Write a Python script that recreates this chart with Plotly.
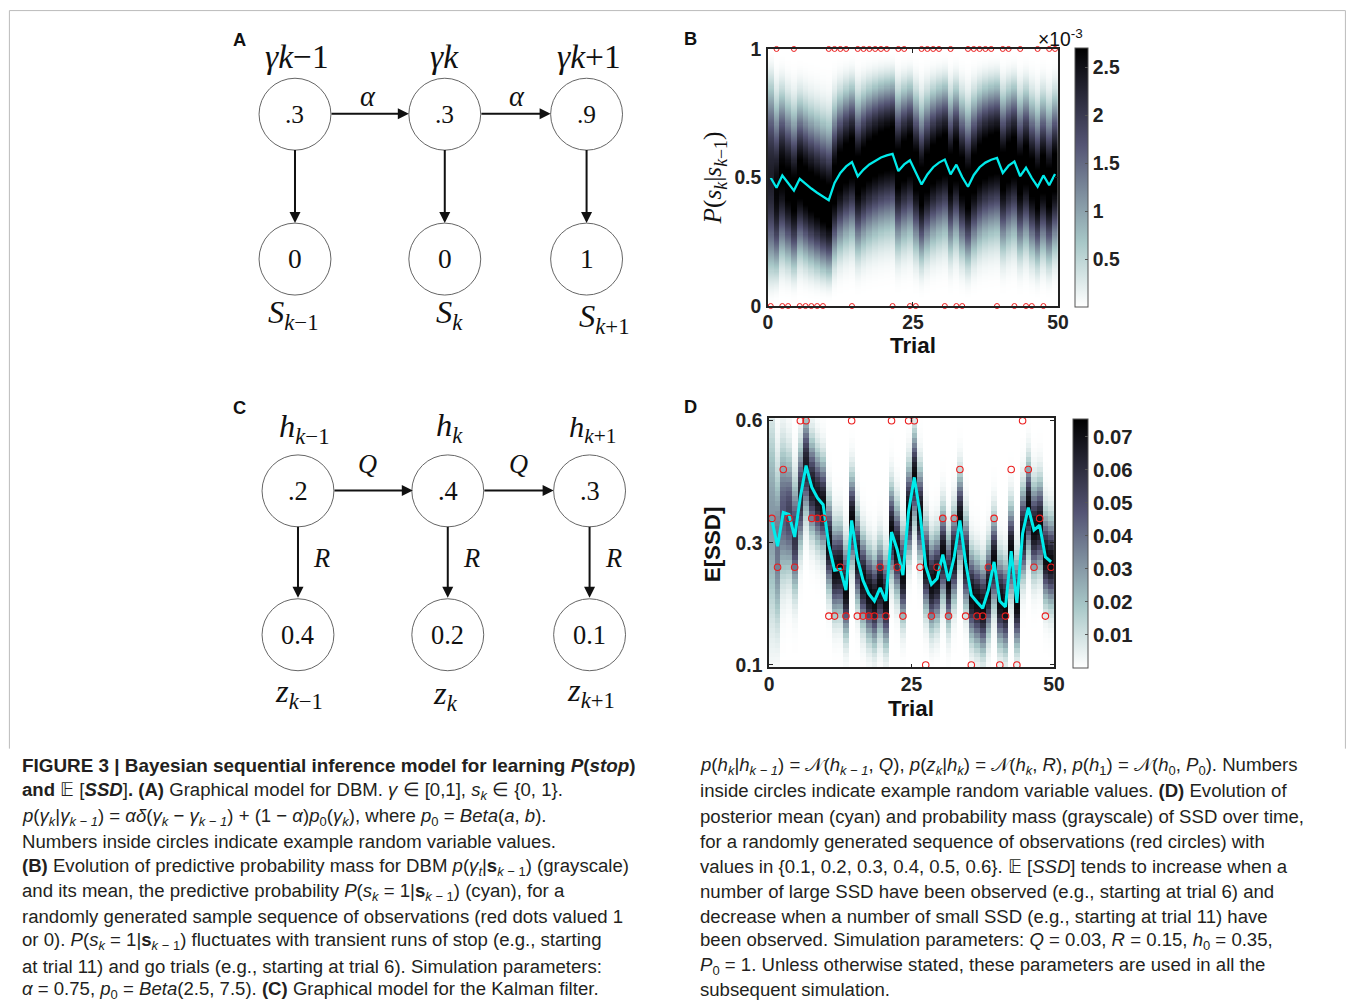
import math
import numpy as np
import plotly.graph_objects as go

W, H = 1357, 1007
# mapping from target picture coordinates to page coordinates (measured from
# the rendered output: picture = offset + scale * page)
SCX, OFX = 0.9896, 3.6
SCY, OFY = 0.980, 8.7

# ---------------- data ----------------
trials = list(range(1, 51))

# Panel B (DBM): observations (1 = stop, 0 = go) and predictive probability (cyan)
stop_obs = [0, 1, 0, 0, 1, 0, 0, 0, 0, 0,
            1, 1, 1, 1, 0, 1, 1, 1, 1, 1,
            1, 0, 1, 1, 0, 0, 1, 1, 1, 1,
            0, 1, 0, 0, 1, 1, 1, 1, 1, 0,
            1, 1, 0, 1, 0, 0, 1, 0, 1, 1]
pred_prob = [0.499, 0.460, 0.508, 0.478, 0.449, 0.495, 0.475, 0.457, 0.441, 0.426,
             0.412, 0.479, 0.518, 0.543, 0.560, 0.505, 0.531, 0.551, 0.566, 0.578,
             0.586, 0.592, 0.525, 0.551, 0.567, 0.518, 0.473, 0.512, 0.540, 0.558,
             0.570, 0.512, 0.550, 0.502, 0.464, 0.510, 0.540, 0.558, 0.569, 0.576,
             0.518, 0.546, 0.562, 0.505, 0.538, 0.498, 0.464, 0.508, 0.470, 0.514]
# spread (concentration) of the predictive mass in each column, read by eye
pred_conc = [6.0, 7.5, 8.0, 8.5, 8.5, 9.0, 9.0, 9.0, 9.0, 9.0,
             9.0, 9.0, 9.0, 9.0, 9.0, 9.0, 9.0, 9.0, 9.0, 9.0,
             9.0, 9.0, 9.0, 9.0, 9.0, 9.0, 9.0, 9.0, 9.0, 9.0,
             9.0, 9.0, 9.0, 9.0, 9.0, 9.0, 9.0, 9.0, 9.0, 9.0,
             9.0, 9.0, 9.0, 9.0, 9.0, 9.0, 9.0, 9.0, 9.0, 9.0]
b_cbar_max = 2.7e-3
b_cbar_ticks = [0.5e-3, 1.0e-3, 1.5e-3, 2.0e-3, 2.5e-3]
b_cbar_text = ["0.5", "1", "1.5", "2", "2.5"]

# Panel D (Kalman): observed SSD, posterior mean (cyan), posterior sd
ssd_obs = [0.4, 0.3, 0.5, 0.4, 0.3, 0.6, 0.6, 0.4, 0.4, 0.4,
           0.2, 0.2, 0.3, 0.2, 0.6, 0.2, 0.2, 0.2, 0.2, 0.3,
           0.2, 0.6, 0.3, 0.2, 0.6, 0.6, 0.3, 0.1, 0.2, 0.3,
           0.4, 0.2, 0.4, 0.5, 0.2, 0.1, 0.2, 0.2, 0.3, 0.4,
           0.1, 0.2, 0.5, 0.1, 0.6, 0.5, 0.3, 0.4, 0.2, 0.3]
ssd_mean = [0.396, 0.343, 0.412, 0.408, 0.362, 0.444, 0.508, 0.464, 0.442, 0.428,
            0.345, 0.294, 0.296, 0.253, 0.396, 0.318, 0.273, 0.246, 0.231, 0.258,
            0.231, 0.372, 0.336, 0.284, 0.415, 0.484, 0.410, 0.302, 0.265, 0.277,
            0.326, 0.272, 0.321, 0.396, 0.310, 0.243, 0.229, 0.216, 0.253, 0.311,
            0.231, 0.219, 0.333, 0.227, 0.369, 0.422, 0.376, 0.386, 0.321, 0.311]
ssd_sd = [0.130, 0.100, 0.085, 0.075, 0.068, 0.063, 0.060, 0.058, 0.057, 0.056,
          0.055, 0.055, 0.055, 0.055, 0.055, 0.055, 0.055, 0.055, 0.055, 0.055,
          0.055, 0.055, 0.055, 0.055, 0.055, 0.055, 0.055, 0.055, 0.055, 0.055,
          0.055, 0.055, 0.055, 0.055, 0.055, 0.055, 0.055, 0.055, 0.055, 0.055,
          0.055, 0.055, 0.055, 0.055, 0.055, 0.055, 0.055, 0.055, 0.055, 0.055]
ssd_levels = [0.10, 0.11, 0.12, 0.13, 0.14, 0.15, 0.16, 0.17, 0.18, 0.19,
              0.20, 0.21, 0.22, 0.23, 0.24, 0.25, 0.26, 0.27, 0.28, 0.29,
              0.30, 0.31, 0.32, 0.33, 0.34, 0.35, 0.36, 0.37, 0.38, 0.39,
              0.40, 0.41, 0.42, 0.43, 0.44, 0.45, 0.46, 0.47, 0.48, 0.49,
              0.50, 0.51, 0.52, 0.53, 0.54, 0.55, 0.56, 0.57, 0.58, 0.59, 0.60]
d_cbar_max = 0.0755
d_cbar_ticks = [0.01, 0.02, 0.03, 0.04, 0.05, 0.06, 0.07]
d_cbar_text = ["0.01", "0.02", "0.03", "0.04", "0.05", "0.06", "0.07"]

# Graphical-model node values
dbm_hidden = [".3", ".3", ".9"]
dbm_observed = ["0", "0", "1"]
kf_hidden = [".2", ".4", ".3"]
kf_observed = ["0.4", "0.2", "0.1"]

# ---------------- derived grids ----------------
gamma_grid = np.linspace(0.0, 1.0, 251)
b_mass_scale = 1.25e-3


def beta_pdf(y, a, b):
    y = np.clip(y, 1e-9, 1 - 1e-9)
    lnB = math.lgamma(a) + math.lgamma(b) - math.lgamma(a + b)
    return np.exp((a - 1) * np.log(y) + (b - 1) * np.log(1 - y) - lnB)


zB = np.zeros((len(gamma_grid), len(trials)))
for i, (m, k) in enumerate(zip(pred_prob, pred_conc)):
    zB[:, i] = beta_pdf(gamma_grid, m * k, (1 - m) * k) * b_mass_scale

lv = np.array(ssd_levels)
zD = np.zeros((len(lv), len(trials)))
for i, (m, s) in enumerate(zip(ssd_mean, ssd_sd)):
    zD[:, i] = 0.01 * np.exp(-0.5 * ((lv - m) / s) ** 2) / (s * math.sqrt(2 * math.pi))

# MATLAB "bone" colormap, reversed
bone_r = [[0.0, "rgb(255,255,255)"], [0.25, "rgb(167,199,199)"],
          [0.625, "rgb(84,84,116)"], [1.0, "rgb(0,0,0)"]]

CYAN = "rgb(0,235,235)"
RED = "rgb(235,30,30)"
SANS = "Liberation Sans"
SERIF = "Liberation Serif"
TXT = "#231f20"
FS = 1.0 / math.sqrt(SCX * SCY)   # font/size compensation


def pgx(x):
    return (x - OFX) / SCX


def pgy(y):
    return (y - OFY) / SCY


def px(x):
    return pgx(x) / W


def py(y):
    return 1 - pgy(y) / H


def f(s):
    return round(s * FS, 2)


fig = go.Figure()

# Panel B
fig.add_trace(go.Heatmap(
    x=trials, y=gamma_grid, z=zB, zmin=0, zmax=b_cbar_max, colorscale=bone_r,
    xaxis="x", yaxis="y", zsmooth=False, hoverinfo="skip",
    colorbar=dict(x=px(1075), xanchor="left", y=py((47 + 306) / 2), yanchor="middle",
                  len=(pgy(306) - pgy(47)) / H, thickness=f(13), xpad=0, ypad=0,
                  outlinewidth=1, outlinecolor="#555",
                  tickvals=b_cbar_ticks, ticktext=b_cbar_text, ticks="inside", ticklen=3,
                  tickcolor="#555",
                  tickfont=dict(family=SANS, size=f(19), color="#222", weight="bold"))))
fig.add_trace(go.Scatter(x=trials, y=pred_prob, mode="lines", xaxis="x", yaxis="y",
                         line=dict(color=CYAN, width=2.3), hoverinfo="skip"))
fig.add_trace(go.Scatter(x=trials, y=stop_obs, mode="markers", xaxis="x", yaxis="y",
                         marker=dict(symbol="circle-open", size=5, color=RED,
                                     line=dict(width=1, color=RED)),
                         cliponaxis=False, hoverinfo="skip"))

# Panel D
fig.add_trace(go.Heatmap(
    x=trials, y=ssd_levels, z=zD, zmin=0, zmax=d_cbar_max, colorscale=bone_r,
    xaxis="x2", yaxis="y2", zsmooth=False, hoverinfo="skip",
    colorbar=dict(x=px(1073), xanchor="left", y=py((418 + 667) / 2), yanchor="middle",
                  len=(pgy(667) - pgy(418)) / H, thickness=f(15), xpad=0, ypad=0,
                  outlinewidth=1, outlinecolor="#555",
                  tickvals=d_cbar_ticks, ticktext=d_cbar_text, ticks="inside", ticklen=3,
                  tickcolor="#555",
                  tickfont=dict(family=SANS, size=f(20), color="#222", weight="bold"))))
fig.add_trace(go.Scatter(x=trials, y=ssd_mean, mode="lines", xaxis="x2", yaxis="y2",
                         line=dict(color=CYAN, width=3), hoverinfo="skip"))
fig.add_trace(go.Scatter(x=trials, y=ssd_obs, mode="markers", xaxis="x2", yaxis="y2",
                         marker=dict(symbol="circle-open", size=6.5, color=RED,
                                     line=dict(width=1.1, color=RED)),
                         cliponaxis=False, hoverinfo="skip"))

axis_common = dict(showgrid=False, zeroline=False, showline=True, linecolor="#222",
                   linewidth=1.5, mirror="ticks", ticks="inside", ticklen=4,
                   tickcolor="#222", tickfont=dict(family=SANS, size=f(19), color="#222",
                                                   weight="bold"))

annotations = []
shapes = []


def text(x, y, s, size, family=SANS, color=TXT, xanchor="center", yanchor="middle", angle=0):
    annotations.append(dict(x=px(x), y=py(y), xref="paper", yref="paper", text=s,
                            showarrow=False, font=dict(size=f(size), family=family, color=color),
                            xanchor=xanchor, yanchor=yanchor, textangle=angle))


def arrow(x0, y0, x1, y1):
    annotations.append(dict(x=px(x1), y=py(y1), xref="paper", yref="paper",
                            ax=pgx(x0) - pgx(x1), ay=pgy(y0) - pgy(y1),
                            axref="pixel", ayref="pixel", text="",
                            showarrow=True, arrowhead=2, arrowsize=1.1, arrowwidth=2,
                            arrowcolor="#111", standoff=0, startstandoff=0))


def node(cx, cy, r, label, size):
    shapes.append(dict(type="circle", xref="paper", yref="paper",
                       x0=px(cx - r), x1=px(cx + r), y0=py(cy + r), y1=py(cy - r),
                       line=dict(color="#666", width=1), fillcolor="white", layer="below"))
    text(cx, cy, label, size, family=SERIF, color="#111")


# ---- Panel A: DBM graphical model ----
A_x = [294, 444, 586]
for i in range(3):
    node(A_x[i], 113, 36, dbm_hidden[i], 25)
    node(A_x[i], 258, 36, dbm_observed[i], 27)
    arrow(A_x[i], 149, A_x[i], 222)
arrow(330, 112.5, 408, 112.5)
arrow(480, 112.5, 550, 112.5)
text(367, 95, "<i>α</i>", 28, family=SERIF, color="#111")
text(516, 95, "<i>α</i>", 28, family=SERIF, color="#111")
text(296, 55, "<i>γk</i>−1", 33, family=SERIF, color="#111")
text(444, 55, "<i>γk</i>", 33, family=SERIF, color="#111")
text(588, 55, "<i>γk</i>+1", 33, family=SERIF, color="#111")
text(293, 313, "<i>S</i><sub><i>k</i>−1</sub>", 32, family=SERIF, color="#111")
text(449, 313, "<i>S</i><sub><i>k</i></sub>", 32, family=SERIF, color="#111")
text(604, 317, "<i>S</i><sub><i>k</i>+1</sub>", 32, family=SERIF, color="#111")
text(238, 38, "<b>A</b>", 18, color="#111")

# ---- Panel C: Kalman graphical model ----
C_x = [297, 447, 589]
for i in range(3):
    node(C_x[i], 490, 36, kf_hidden[i], 26)
    node(C_x[i], 634, 36, kf_observed[i], 26)
    arrow(C_x[i], 526, C_x[i], 597)
    text(C_x[i] + 24, 557, "<i>R</i>", 26, family=SERIF, color="#111")
arrow(333, 489.5, 412, 489.5)
arrow(483, 489.5, 553, 489.5)
text(367, 463, "<i>Q</i>", 26, family=SERIF, color="#111")
text(518, 463, "<i>Q</i>", 26, family=SERIF, color="#111")
text(304, 428, "<i>h</i><sub><i>k</i>−1</sub>", 32, family=SERIF, color="#111")
text(449, 427, "<i>h</i><sub><i>k</i></sub>", 32, family=SERIF, color="#111")
text(592, 428, "<i>h</i><sub><i>k</i>+1</sub>", 30, family=SERIF, color="#111")
text(298, 693, "<i>z</i><sub><i>k</i>−1</sub>", 32, family=SERIF, color="#111")
text(445, 695, "<i>z</i><sub><i>k</i></sub>", 32, family=SERIF, color="#111")
text(590, 692, "<i>z</i><sub><i>k</i>+1</sub>", 32, family=SERIF, color="#111")
text(238, 407, "<b>C</b>", 18, color="#111")

# ---- Panel B/D labels ----
text(690, 37, "<b>B</b>", 18, color="#111")
text(690, 406, "<b>D</b>", 18, color="#111")
text(913, 344, "<b>Trial</b>", 22, color="#111")
text(911, 708, "<b>Trial</b>", 22, color="#111")
text(714, 177, "<i>P</i>(<i>s<sub>k</sub></i>|<i>s</i><sub><i>k</i>−1</sub>)", 25,
     family=SERIF, color="#111", angle=-90)
text(712, 543, "<b>E[SSD]</b>", 22, color="#111", angle=-90)
text(1061, 37, "×10<sup>-3</sup>", 19, color="#111")

# ---- caption ----
cap_left = [
    "<b>FIGURE 3 | Bayesian sequential inference model for learning <i>P</i>(<i>stop</i>)</b>",
    "<b>and</b> 𝔼 [<b><i>SSD</i></b>]<b>. (A)</b> Graphical model for DBM. <i>γ</i> ∈ [0,1], <i>s<sub>k</sub></i> ∈ {0, 1}.",
    "<i>p</i>(<i>γ<sub>k</sub></i>|<i>γ<sub>k − 1</sub></i>) = <i>αδ</i>(<i>γ<sub>k</sub></i> − <i>γ<sub>k − 1</sub></i>) + (1 − <i>α</i>)<i>p</i><sub>0</sub>(<i>γ<sub>k</sub></i>), where <i>p</i><sub>0</sub> = <i>Beta</i>(<i>a</i>, <i>b</i>).",
    "Numbers inside circles indicate example random variable values.",
    "<b>(B)</b> Evolution of predictive probability mass for DBM <i>p</i>(<i>γ<sub>t</sub></i>|<b>s</b><sub><i>k</i> − 1</sub>) (grayscale)",
    "and its mean, the predictive probability <i>P</i>(<i>s<sub>k</sub></i> = 1|<b>s</b><sub><i>k</i> − 1</sub>) (cyan), for a",
    "randomly generated sample sequence of observations (red dots valued 1",
    "or 0). <i>P</i>(<i>s<sub>k</sub></i> = 1|<b>s</b><sub><i>k</i> − 1</sub>) fluctuates with transient runs of stop (e.g., starting",
    "at trial 11) and go trials (e.g., starting at trial 6). Simulation parameters:",
    "<i>α</i> = 0.75, <i>p</i><sub>0</sub> = <i>Beta</i>(2.5, 7.5). <b>(C)</b> Graphical model for the Kalman filter.",
]
cap_right = [
    "<i>p</i>(<i>h<sub>k</sub></i>|<i>h<sub>k − 1</sub></i>) = 𝒩(<i>h<sub>k − 1</sub></i>, <i>Q</i>), <i>p</i>(<i>z<sub>k</sub></i>|<i>h<sub>k</sub></i>) = 𝒩(<i>h<sub>k</sub></i>, <i>R</i>), <i>p</i>(<i>h</i><sub>1</sub>) = 𝒩(<i>h</i><sub>0</sub>, <i>P</i><sub>0</sub>). Numbers",
    "inside circles indicate example random variable values. <b>(D)</b> Evolution of",
    "posterior mean (cyan) and probability mass (grayscale) of SSD over time,",
    "for a randomly generated sequence of observations (red circles) with",
    "values in {0.1, 0.2, 0.3, 0.4, 0.5, 0.6}. 𝔼 [<i>SSD</i>] tends to increase when a",
    "number of large SSD have been observed (e.g., starting at trial 6) and",
    "decrease when a number of small SSD (e.g., starting at trial 11) have",
    "been observed. Simulation parameters: <i>Q</i> = 0.03, <i>R</i> = 0.15, <i>h</i><sub>0</sub> = 0.35,",
    "<i>P</i><sub>0</sub> = 1. Unless otherwise stated, these parameters are used in all the",
    "subsequent simulation.",
]
# caption line centres (the last one nudged up slightly so it stays on the page)
line_y = [765, 790, 816, 841, 866, 891, 916, 941, 966, 989.5]
for j, (yy, s) in enumerate(zip(line_y, cap_left)):
    text(18.5, yy, s, 18.6 if j == 0 else 18.3, xanchor="left")
for yy, s in zip(line_y, cap_right):
    text(697.5, yy, s, 18.3, xanchor="left")

# thin figure border (top, left, right)
shapes.append(dict(type="path", xref="paper", yref="paper",
                   path="M {:.5f},{:.5f} L {:.5f},{:.5f} L {:.5f},{:.5f} L {:.5f},{:.5f}".format(
                       px(8), py(748), px(8), 1 - 0.6 / H, 1 - 0.6 / W, 1 - 0.6 / H,
                       1 - 0.6 / W, py(748)),
                   line=dict(color="#bbb", width=1)))

fig.update_layout(
    width=W, height=H, autosize=False, margin=dict(l=0, r=0, t=0, b=0),
    paper_bgcolor="white", plot_bgcolor="white", showlegend=False,
    xaxis=dict(axis_common, domain=[px(767.5), px(1058)], range=[0.5, 50.5],
               tickvals=[0.5, 25.5, 50.5], ticktext=["0", "25", "50"], anchor="y",
               ticklabelstandoff=-2),
    yaxis=dict(axis_common, domain=[py(305), py(47.7)], range=[0, 1],
               tickvals=[0, 0.5, 1], ticktext=["0", "0.5", "1"], anchor="x",
               ticklabelstandoff=1),
    xaxis2=dict(axis_common, domain=[px(768.7), px(1054)], range=[0.5, 50.5],
                tickvals=[0.5, 25.5, 50.5], ticktext=["0", "25", "50"], anchor="y2",
                ticklabelstandoff=-1),
    yaxis2=dict(axis_common, domain=[py(666.7), py(417.3)], range=[0.095, 0.605],
                tickvals=[0.1, 0.35, 0.6], ticktext=["0.1", "0.3", "0.6"], anchor="x2",
                ticklabelstandoff=1),
    annotations=annotations, shapes=shapes,
)

fig.write_html(
    "out.html",
    config={"responsive": False, "displayModeBar": False},
    post_script="document.documentElement.style.margin='0';"
                "document.documentElement.style.overflow='hidden';"
                "document.body.style.margin='0';document.body.style.padding='0';"
                "document.body.style.overflow='hidden';",
)
